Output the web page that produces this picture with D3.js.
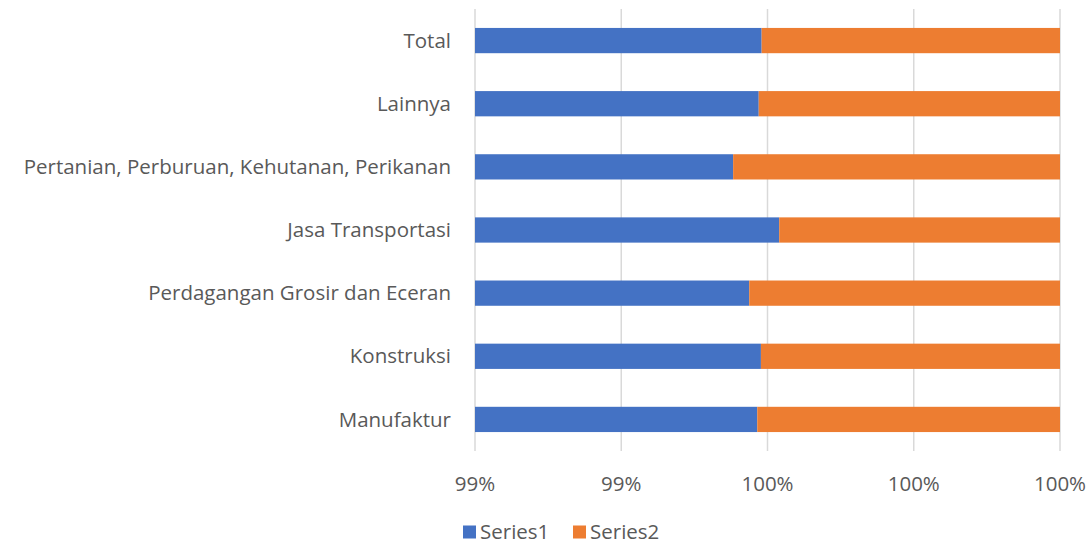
<!DOCTYPE html>
<html>
<head>
<meta charset="utf-8">
<script src="https://cdn.jsdelivr.net/npm/d3@7"></script>
<style>
	body { margin: 0; background: #fff; }
	text { font-family: "Open Sans", sans-serif; fill: #595959; }
</style>
</head>
<body>
<svg id="chart" width="1091" height="544"></svg>
<script>
// categories top to bottom
const categories = ["Total", "Lainnya", "Pertanian, Perburuan, Kehutanan, Perikanan", "Jasa Transportasi",
	"Perdagangan Grosir dan Eceran", "Konstruksi", "Manufaktur"]
const series1 = [0.99592, 0.99588, 0.99553, 0.99616, 0.99575, 0.99591, 0.99586]
const series2 = [0.00408, 0.00412, 0.00447, 0.00384, 0.00425, 0.00409, 0.00414]
const seriesNames = ["Series1", "Series2"]
const colors = ["#4472c4", "#ed7d31"]
const tickValues = [0.992, 0.994, 0.996, 0.998, 1.0]

const svg = d3.select("#chart")
const plotLeft = 475, plotRight = 1060, plotTop = 9, plotBottom = 451
const fontSize = "20.5px"

var x = d3.scaleLinear().domain([0.992, 1.0]).range([plotLeft, plotRight])
var y = d3.scaleBand().domain(categories).range([plotTop, plotBottom]).paddingInner(0.6).paddingOuter(0.3)

//gridlines
svg.append("g")
	.selectAll("line")
	.data(tickValues)
	.join("line")
		.attr("x1", d => x(d)).attr("x2", d => x(d))
		.attr("y1", plotTop).attr("y2", plotBottom)
		.attr("stroke", "#d9d9d9").attr("stroke-width", 1.5)

// 100% stacked: each row normalised to its total
var rows = categories.map((c, i) => {
	let sum = series1[i] + series2[i]
	return { cat: c, parts: [[0, series1[i] / sum], [series1[i] / sum, 1]] }
})

svg.append("clipPath").attr("id", "plotClip")
	.append("rect").attr("x", plotLeft).attr("y", 0).attr("width", plotRight - plotLeft).attr("height", 544)

const bars = svg.append("g").attr("clip-path", "url(#plotClip)")
seriesNames.forEach((s, k) => {
	bars.append("g")
		.selectAll("rect")
		.data(rows)
		.join("rect")
			.attr("x", d => x(Math.max(0.992, d.parts[k][0])))
			.attr("width", d => x(d.parts[k][1]) - x(Math.max(0.992, d.parts[k][0])))
			.attr("y", d => y(d.cat))
			.attr("height", y.bandwidth())
			.attr("fill", colors[k])
})

// category labels
svg.append("g")
	.selectAll("text")
	.data(categories)
	.join("text")
		.attr("x", 451)
		.attr("y", d => y(d) + y.bandwidth() / 2)
		.attr("dy", "0.35em")
		.attr("text-anchor", "end")
		.style("font-size", fontSize)
		.text(d => d)

// x tick labels
const fmt = d3.format(".0%")
svg.append("g")
	.selectAll("text")
	.data(tickValues)
	.join("text")
		.attr("x", d => x(d))
		.attr("y", 484)
		.attr("dy", "0.35em")
		.attr("text-anchor", "middle")
		.style("font-size", fontSize)
		.text(d => fmt(d))

// legend
const legend = svg.append("g").attr("transform", "translate(463,532)")
const legX = [0, 110]
seriesNames.forEach((s, k) => {
	let g = legend.append("g").attr("transform", `translate(${legX[k]},0)`)
	g.append("rect").attr("x", 0).attr("y", -6.5).attr("width", 13).attr("height", 13).attr("fill", colors[k])
	g.append("text").attr("x", 17).attr("dy", "0.35em").style("font-size", fontSize).text(s)
})
</script>
</body>
</html>
